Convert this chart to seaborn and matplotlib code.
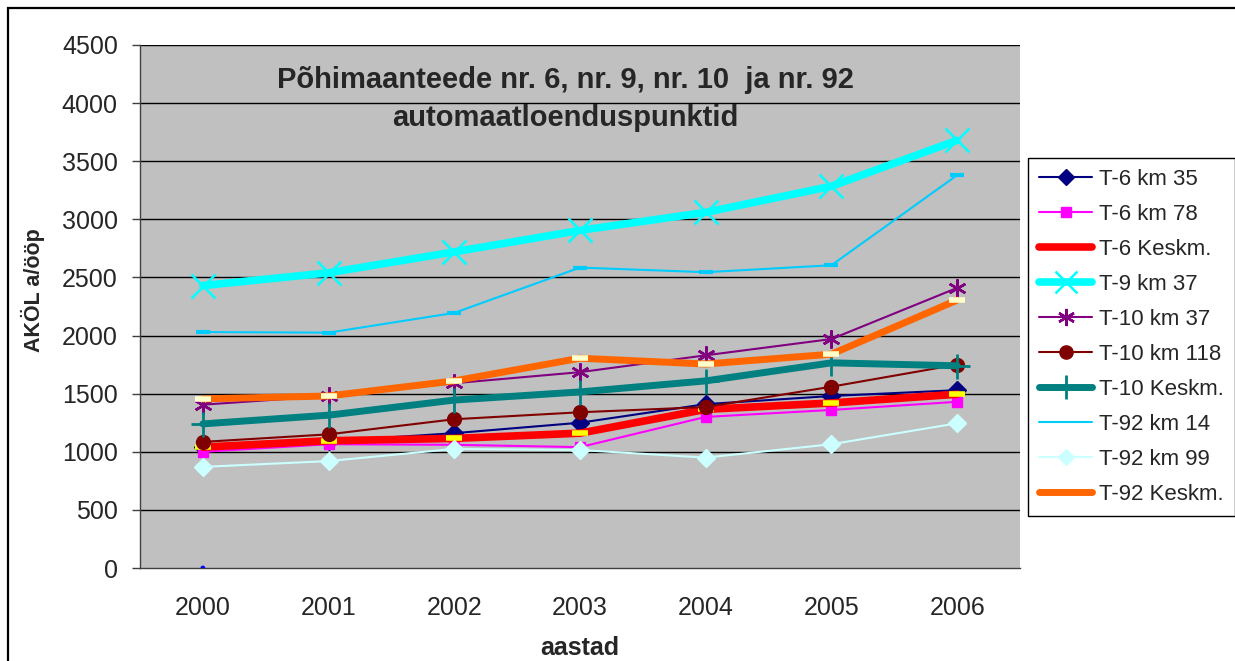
import matplotlib
matplotlib.use("Agg")
import matplotlib.pyplot as plt
from matplotlib.patches import Rectangle
from matplotlib.lines import Line2D
import seaborn as sns
import pandas as pd

years = ["2000", "2001", "2002", "2003", "2004", "2005", "2006"]

t6_km35 = [1040, 1090, 1160, 1250, 1410, 1480, 1530]
t6_km78 = [1000, 1065, 1060, 1040, 1300, 1360, 1430]
t6_kesk = [1040, 1095, 1115, 1160, 1365, 1420, 1495]
t9_km37 = [2430, 2540, 2720, 2905, 3060, 3285, 3680]
t10_km37 = [1405, 1480, 1590, 1685, 1830, 1970, 2410]
t10_km118 = [1085, 1150, 1280, 1340, 1385, 1560, 1750]
t10_kesk = [1240, 1315, 1445, 1515, 1610, 1765, 1740]
t92_km14 = [2030, 2025, 2195, 2585, 2545, 2605, 3380]
t92_km99 = [870, 920, 1025, 1015, 950, 1065, 1245]
t92_kesk = [1455, 1480, 1610, 1805, 1755, 1840, 2305]
stray_value = [0]

title_lines = ["Põhimaanteede nr. 6, nr. 9, nr. 10  ja nr. 92", "automaatloenduspunktid"]
ylabel = "AKÖL a/ööp"
xlabel = "aastad"
yticks = [0, 500, 1000, 1500, 2000, 2500, 3000, 3500, 4000, 4500]

# style: (line colour, lw, marker, ms, face, edge, mew, show marker in legend)
series = [
    ("T-6 km 35", t6_km35, ("#000080", 1.5, "D", 9, "#000080", "#000080", 1, True)),
    ("T-6 km 78", t6_km78, ("#FF00FF", 1.5, "s", 7, "#FF00FF", "#FF00FF", 1, True)),
    ("T-6 Keskm.", t6_kesk, ("#FF0000", 5.5, "_", 12, "none", "#FFFF00", 4, False)),
    ("T-9 km 37", t9_km37, ("#00FFFF", 5.5, "x", 17, "none", "#00FFFF", 1.8, True)),
    ("T-10 km 37", t10_km37, ("#800080", 1.5, (6, 2, 0), 13, "none", "#800080", 1.8, True)),
    ("T-10 km 118", t10_km118, ("#800000", 1.5, "o", 10, "#800000", "#800000", 1, True)),
    ("T-10 Keskm.", t10_kesk, ("#008080", 5, "+", 18, "none", "#008080", 2, True)),
    ("T-92 km 14", t92_km14, ("#00CCFF", 1.5, "_", 10, "none", "#00CCFF", 3, False)),
    ("T-92 km 99", t92_km99, ("#CCFFFF", 1.5, "D", 9, "#CCFFFF", "#CCFFFF", 1, True)),
    ("T-92 Keskm.", t92_kesk, ("#FF6600", 5, "_", 12, "none", "#FFFFCC", 4, False)),
]

sns.set_theme(style="white")
plt.rcParams["font.family"] = ["Liberation Sans", "DejaVu Sans"]

fig = plt.figure(figsize=(12.35, 6.61), dpi=100)
fig.patch.set_facecolor("white")
ax = fig.add_axes([140 / 1235, 1 - 568 / 661, 880 / 1235, 523 / 661])
ax.set_facecolor("#C0C0C0")

xs = list(range(len(years)))
handles = []
for name, vals, (col, lw, mk, ms, mfc, mec, mew, legmk) in series:
    df = pd.DataFrame({"x": xs, "y": vals})
    sns.lineplot(data=df, x="x", y="y", ax=ax, color=col, lw=lw,
                 marker=mk, markersize=ms, markerfacecolor=mfc,
                 markeredgecolor=mec, markeredgewidth=mew, zorder=3)
    if legmk:
        h = Line2D([], [], color=col, lw=lw, marker=mk, markersize=ms * 0.95,
                   markerfacecolor=mfc, markeredgecolor=mec, markeredgewidth=mew)
    else:
        h = Line2D([], [], color=col, lw=lw)
    handles.append((h, name))

sns.scatterplot(x=[0], y=stray_value, ax=ax, color="#0000FF", s=12, edgecolor="none",
                zorder=4, legend=False)

ax.set_xlim(-0.5, len(years) - 0.5)
ax.set_ylim(0, 4500)
ax.set_yticks(yticks)
ax.set_yticklabels([str(v) for v in yticks], fontsize=18)
ax.set_xticks(xs)
ax.set_xticklabels(years, fontsize=18)
ax.set_xticks([i - 0.5 for i in range(len(years) + 1)], minor=True)
ax.tick_params(axis="x", which="major", length=0, pad=20)
ax.tick_params(axis="x", which="minor", length=8, width=1, color="#404040", direction="out")
ax.tick_params(axis="y", which="major", length=6, width=1, color="#404040", direction="out",
               left=True, pad=10)
for y in yticks[1:]:
    ax.axhline(y, color="black", lw=1, zorder=1)

for side in ["top", "right"]:
    ax.spines[side].set_visible(False)
for side in ["left", "bottom"]:
    ax.spines[side].set_color("#404040")
    ax.spines[side].set_linewidth(1)

ax.set_ylabel(ylabel, fontsize=15.5, fontweight="bold")
ax.yaxis.set_label_coords(-0.108, (568 - 290) / 523)
ax.set_xlabel(xlabel, fontsize=18, fontweight="bold", labelpad=12)
ax.text(0.483, (568 - 80) / 523, title_lines[0], transform=ax.transAxes, ha="center",
        va="center", fontsize=21, fontweight="bold")
ax.text(0.483, (568 - 118) / 523, title_lines[1], transform=ax.transAxes, ha="center",
        va="center", fontsize=21, fontweight="bold")

leg = ax.legend([h for h, _ in handles], [n for _, n in handles],
                loc="upper left", bbox_to_anchor=(1028 / 1235, 1 - 158 / 661),
                bbox_transform=fig.transFigure, fontsize=16, frameon=True,
                fancybox=False, edgecolor="black", facecolor="white",
                handlelength=2.4, labelspacing=0.63, borderpad=0.5,
                handletextpad=0.3, borderaxespad=0)
leg.get_frame().set_linewidth(1)
leg.get_frame().set_alpha(1)

fig.patches.append(Rectangle((8 / 1235, -0.1), 1.2, 1.1 - 8 / 661,
                             transform=fig.transFigure, fill=False,
                             edgecolor="black", lw=1.6, zorder=0))

fig.savefig("out.png", dpi=100, facecolor="white")
